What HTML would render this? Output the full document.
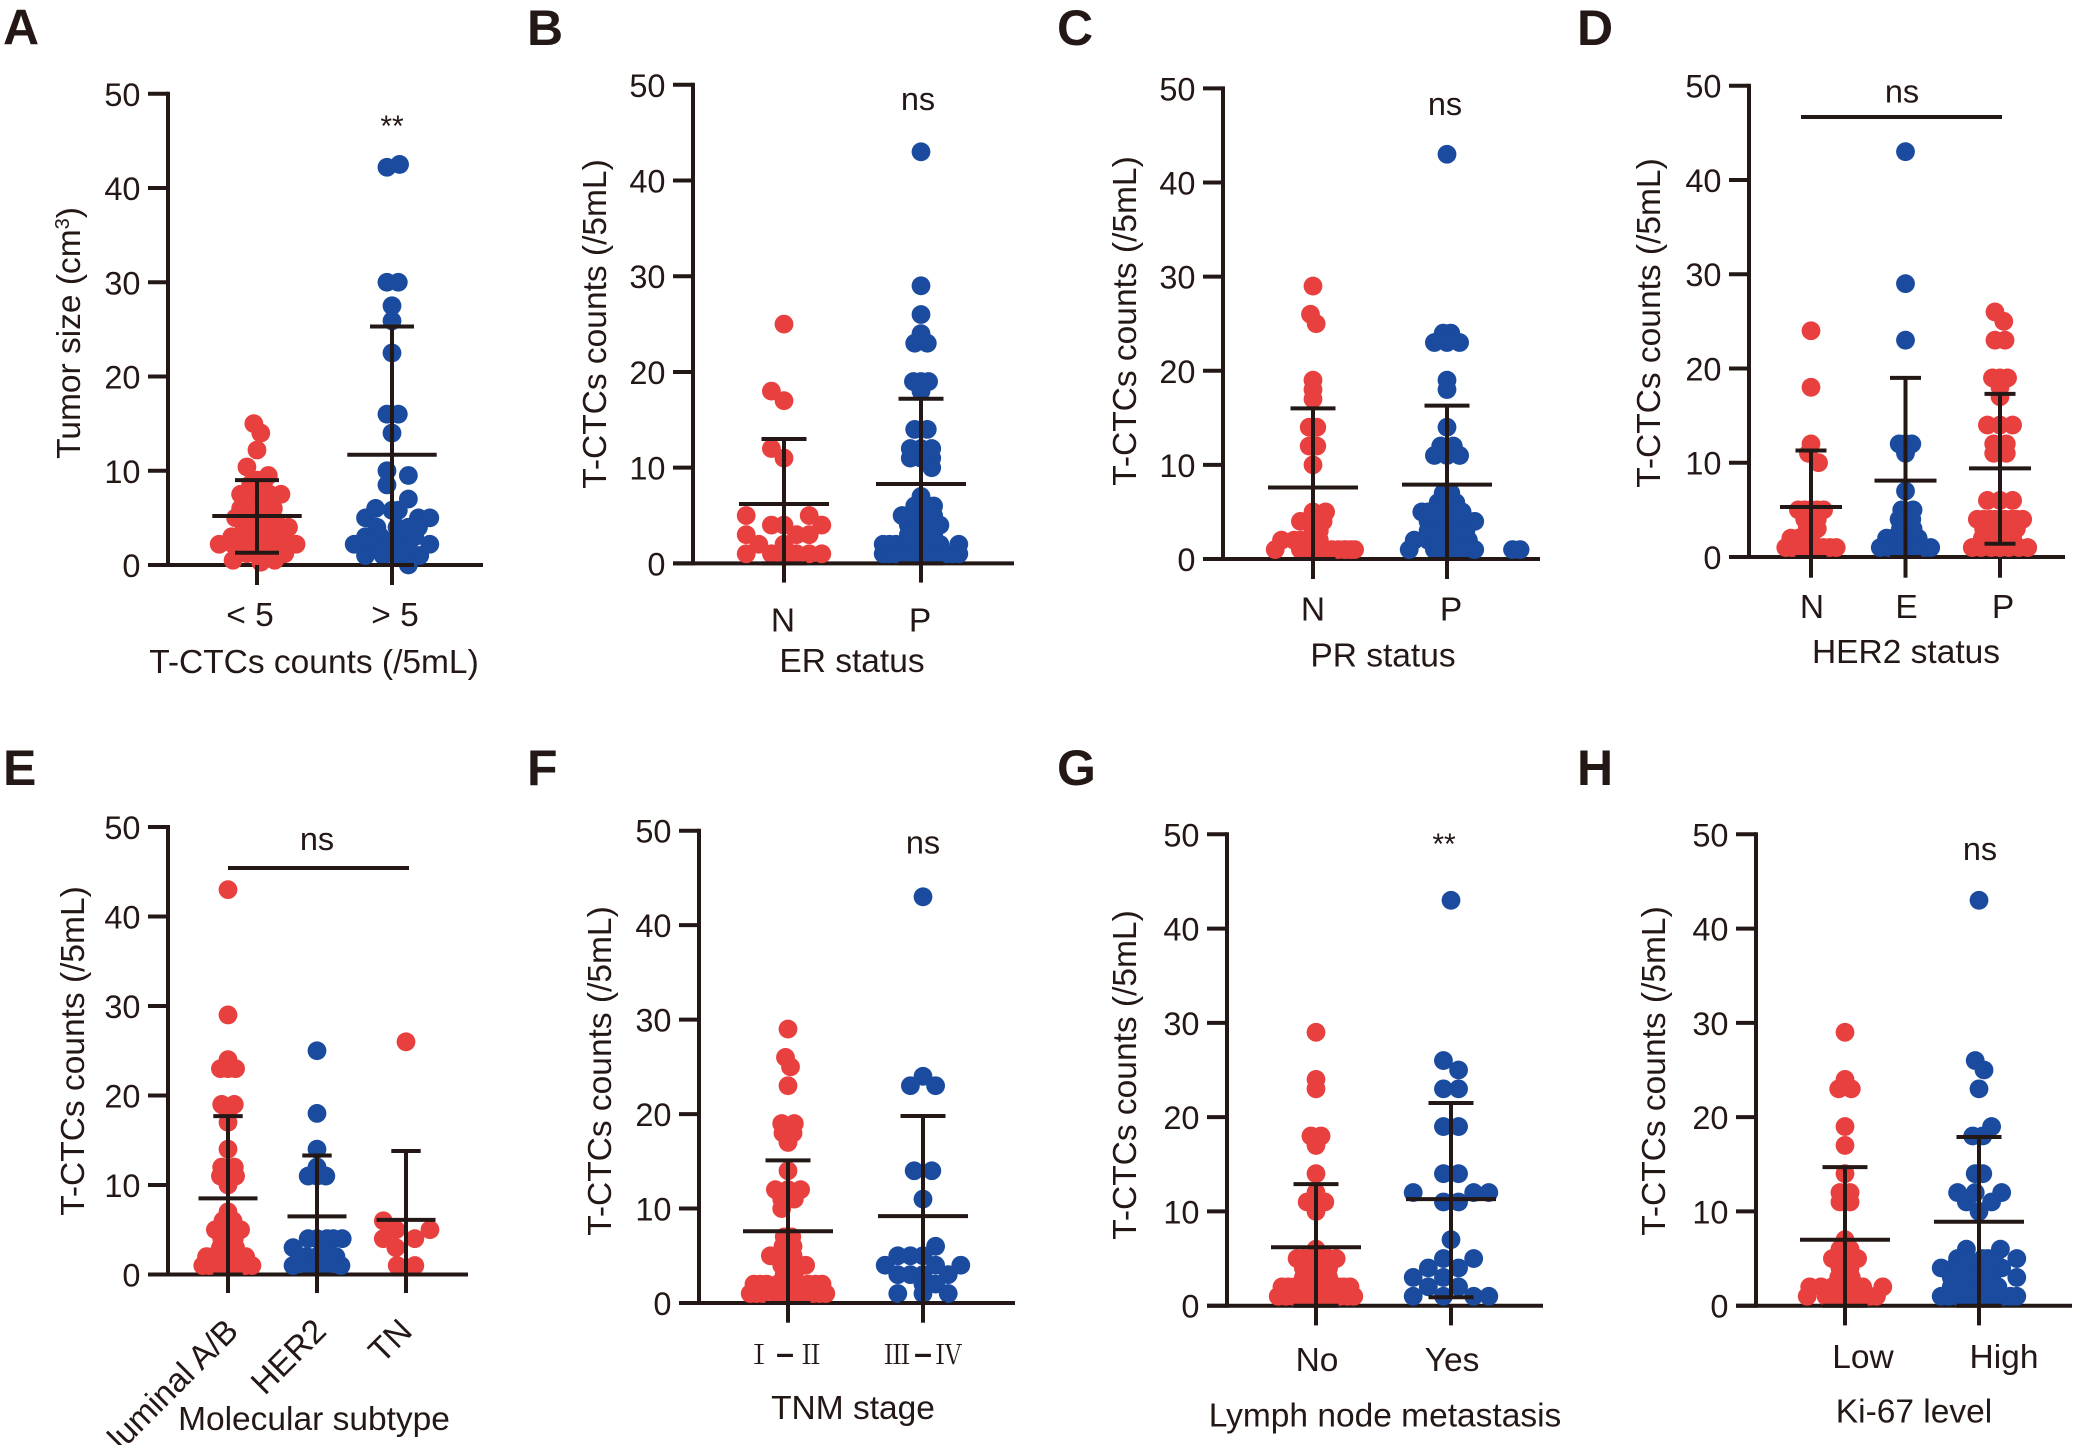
<!DOCTYPE html>
<html lang="en">
<head>
<meta charset="utf-8">
<title>T-CTCs counts by clinical features</title>
<style>
html,body{margin:0;padding:0;background:#fff;}
svg{display:block;}
text{font-family:"Liberation Sans","Noto Sans CJK SC",sans-serif;fill:#231815;}
</style>
</head>
<body>
<svg id="figure" xmlns="http://www.w3.org/2000/svg" width="2075" height="1445" viewBox="0 0 2075 1445"></svg>
<script>
const yTicks = [0, 10, 20, 30, 40, 50];

const catsA = ["< 5", "> 5"];
const meansA = [5.2, 11.7];
const upperA = [9, 25.3];
const lowerA = [1.3, 0];
const valsA1 = [15,14,12.2,10.4,9.5,7.5,7.5,7.5,7.5,6,6,6,5,5,5,4,4,4,4,4,3,3,2.2,2.2,2.2,2.2,2.2,2.2,2.2,1.2,1.2,0.5,0.3,0.5,9,8.6,8.6,6,6,6,5,5,5,5,4,4,4,4,3,3,3,3,3,3,1.2,1.2,1.2,1.2];
const slotA1 = [-0.25,0.3,0,-0.8,0.9,-1.3,0,1,1.9,-1.3,-0.5,0.3,-1.2,0,0.8,-0.5,0.5,1.5,2.5,1,-1.5,1,-3,-1.9,-0.8,0.3,1.3,2.1,3.1,-0.8,0.8,-1.9,0.3,1.4,0,-0.5,0.5,-1,0.8,1.3,-0.5,0.5,1.3,-1.7,-1,0,1,2,-2,-0.5,0,0.5,1.5,2,-1.5,0,1.5,2.2];
const valsA2 = [42.2,42.5,30,30,27.5,25.9,22.5,16,16,14,10,9.5,8.5,7,6,5.8,5.8,5,5,5,4,4,4,4,3,3,3,2.2,2.2,2.2,2.2,2.5,1,1,1,1,1.3,0,3,2,2];
const slotA2 = [-0.4,0.6,-0.4,0.5,0,0,0,-0.4,0.5,0,-0.4,1.3,-0.4,1.3,-1.3,0,0.5,-2.1,2.1,3,-1.2,0.4,1.3,2.1,-2.1,-0.9,0.4,-3,-1.2,1.3,3,-2.1,-2.1,-0.7,0.3,2.2,1.3,1.3,1.8,-0.3,0.5];

const catsB = ["N", "P"];
const meansB = [6.2, 8.3];
const upperB = [13, 17.2];
const lowerB = [0, 0];
const valsB1 = [25,18,17,12,11,5,5,4,4,4,3,3,3,2,2,1,1,1,1,1,1,1];
const slotB1 = [0,-1,0,-1,0,-3,2,-1,0,3,-3,1,2,-2,0,-3,-1,0,1,2,3,0.5];
const valsB2 = [43,29,26,24,23,23,19,19,19,18,14,14,12,12,12,11,11,11,10,7,6,6,6,5,5,5,4,4,4,3,3,3,2,2,2,2,2,1,1,1,1,1,1,1,5,4,4,4,3,3,2,2,2,1,1,1,1,1,1];
const slotB2 = [0,0,0,0,-0.5,0.5,-0.6,0,0.6,0,-0.5,0.5,-0.85,0,0.85,-0.85,0,0.85,0.85,0,-0.5,0.5,1,-1.5,-0.5,0.5,-0.5,0.5,1.5,-0.5,0,0.5,-3,-2,-1,1.5,3,-3,-2,-1,0,1,2,3,1,-1,0,1,-1,1,-2.5,-0.5,0.5,-2.5,-1.5,-0.5,0.5,1.5,2.5];

const catsC = ["N", "P"];
const meansC = [7.6, 7.9];
const upperC = [16, 16.3];
const lowerC = [0, 0];
const valsC1 = [29,26,25,19,18,17,14,14,12,12,10,5,5,4,4,4,3,3,2,2,2,1,1,1,1,1,1,1,1,1,1,1,1,2,2,2];
const slotC1 = [0,-0.2,0.25,0,0,0,-0.3,0.3,-0.3,0.3,0,0,1,-1,0,0.8,0,0.5,-2.5,-1.5,-0.5,-3,-1,0,1,2,2.6,3,3.3,-0.5,0.5,1.5,2.5,-1,0,0.5];
const valsC2 = [43,24,24,23,23,23,19,18,14,12,12,11,11,11,7,6,6,5,5,5,5,4,4,4,4,3,3,3,2,2,2,2,1,1,1,1,1,1,1,4,4,4,4,3,3,3,3,5,5,5,2,2,2,1,1,1,6,7,7];
const slotC2 = [0,-0.3,0.3,-1,0,1,0,0,0,-0.5,0.5,-1,0,1,0,-0.7,0.7,-2,-1,1,1.2,-1,0,1,2.2,-0.8,0,0.8,-2.6,-1.5,1,1.7,-3,-1,0,1,2.2,5.2,5.8,-1.5,-0.5,0.5,1.5,-1.5,-0.5,0.5,1.5,-1.5,-0.5,0.5,-0.5,0,0.5,-0.5,0.5,1.6,0,-0.3,0.3];

const catsD = ["N", "E", "P"];
const meansD = [5.3, 8.1, 9.4];
const upperD = [11.3, 19, 17.3];
const lowerD = [0, 0, 1.4];
const valsD1 = [24,18,12,11,10,5,5,5,4,3,2,2,1,1,1,1,1,1,1,1,1,2,2,3,3,5,5,4,4];
const slotD1 = [0,0,0,-0.2,0.6,-1,0,1,0,0.2,-1.6,-0.5,-2,-1,0,1,2,-1.5,-0.5,0.5,1.5,-1,0,-0.3,0.5,-0.5,0.5,-0.5,0.5];
const valsD2 = [43,29,23,12,12,12,11,7,5,5,4,3,2,2,1,1,1,1,1,1,1,1,1,2,2,2,2,3,3,4,4,4];
const slotD2 = [0,0,0,-0.5,0,0.5,0,0,-0.3,0.6,-0.5,0,-1.5,0.5,-2,-0.6,0.7,1.5,2,-1.3,0,0.3,1,-1,-0.5,0,1,-0.4,0.6,-0.5,0,0.5];
const valsD3 = [26,25,23,23,19,19,19,18,17,14,14,14,12,12,11,11,6,6,6,4,4,4,4,4,3,3,3,2,2,1,1,1,1,4,4,4,4,3,3,2,2,2,1,1,1];
const slotD3 = [-0.4,0.3,-0.4,0.4,-0.6,0,0.6,0,0,-1,0,1,-0.5,0.5,-0.5,0.5,-1,0,1,-1.8,-0.8,0,0.9,1.8,-0.8,0,0.8,-1.4,1,-2.2,-0.7,0.7,2.2,-1.3,-0.4,0.4,1.3,-1.3,1.3,-0.7,0,0.5,-1.5,0,1.5];

const catsE = ["luminal A/B", "HER2", "TN"];
const meansE = [8.5, 6.5, 6.1];
const upperE = [17.7, 13.3, 13.8];
const lowerE = [0, 0, 0];
const valsE1 = [43,29,24,23,23,23,19,19,18,17,14,12,12,11,11,10,7,6,6,5,5,5,4,4,3,3,2,2,1,1,1,1,1,1,1,1,1,2,2,2,3,4,4];
const slotE1 = [0,0,0,-0.6,0,0.6,-0.5,0.5,0,0,0,-0.5,0.5,-0.6,0.6,0,0,-0.4,0.4,-1,0,1,-0.5,0.5,-0.6,0.6,-1.7,1.4,-2,-1,0.5,1.9,-1.5,-0.5,0,1,1.4,-1.2,-0.8,1,0,-0.2,0.2];
const valsE2 = [25,18,14,12,11,11,11,4,4,4,3,2,2,2,1,1,1,2,2,3,4,4,1,1];
const slotE2 = [0,0,0,0,-0.7,0,0.7,-0.7,1.3,2,-1.9,-0.8,0.9,1.5,-1.9,0,1.9,0,-1.3,0.5,0,0.8,-0.8,0.8];
const valsE3 = [26,6,5,5,4,4,3,1,1];
const slotE3 = [0,-1.8,-0.8,1.9,-1.8,0.7,-0.8,-0.7,0.7];

const catsF = ["Ⅰ－Ⅱ", "Ⅲ－Ⅳ"];
const meansF = [7.6, 9.2];
const upperF = [15.1, 19.8];
const lowerF = [0, 0];
const valsF1 = [29,26,25,23,19,19,18,18,17,14,12,12,12,11,11,10,7,6,5,5,5,4,4,4,3,3,2,2,2,2,1,1,1,1,1,1,1,1,1,1,1,1,2,2,2,2,2,3,3,4,5,6,6,7,7];
const slotF1 = [0,-0.2,0.2,0,-0.5,0.5,-0.4,0.4,0,0,-1,0,1,-0.5,0.5,-0.5,0,0,-1.4,-0.4,0.4,-0.5,0.4,1.4,-0.3,0.3,-2.7,-1.7,1.6,2.7,-3,-2,-0.6,1,2,3,-1,-0.2,0.3,1.5,2.5,-2.5,-0.8,0,0.8,2.2,-2.2,-0.3,0.5,0,0,-0.4,0.4,-0.3,0.3];
const valsF2 = [43,24,23,23,14,14,11,6,5,5,5,4,4,4,3,3,3,3,2,2,1,1,1];
const slotF2 = [0,0,-1,1,-0.7,0.7,0,1,-2,-1,0,-3,1,3,-2,-1,0,2,0,1,-2,0,2];

const catsG = ["No", "Yes"];
const meansG = [6.2, 11.3];
const upperG = [12.9, 21.5];
const lowerG = [0, 0.9];
const valsG1 = [29,24,23,18,18,17,14,12,11,11,10,6,5,5,5,5,4,4,4,3,3,2,2,2,2,2,1,1,1,1,1,1,1,1,1,1,1,1,2,2,2,2,2,2,3,3,3,4,4,5,5];
const slotG1 = [0,0,0,-0.4,0.4,0,0,0,-0.7,0.7,0,0,-1.5,-0.4,0.6,1.6,-1,0,1,-0.5,0.5,-2.7,-1.7,-0.6,1.8,2.7,-3,-1.8,-0.7,0.8,1.9,3,-2.4,-1.2,0,0.3,1.4,2.5,-2.2,-1.1,0,0.6,1.2,2.2,-1,0,1,-0.5,0.5,-1,1];
const valsG2 = [43,26,25,23,23,19,19,14,14,12,12,12,11,11,7,5,5,4,4,3,3,2,2,1,1,1,1];
const slotG2 = [0,-0.6,0.6,-0.6,0.6,-0.6,0.6,-0.6,0.6,-3,1.8,3,-0.6,0.6,0,-0.6,1.8,-1.8,0.6,-3,-0.6,-1.8,0.6,-3,-0.6,1.8,3];

const catsH = ["Low", "High"];
const meansH = [7, 8.9];
const upperH = [14.7, 17.9];
const lowerH = [0, 0];
const valsH1 = [29,24,23,23,19,17,14,12,12,11,11,7,6,6,5,5,5,4,4,3,3,2,2,2,2,1,1,1,1,1,1,1,1,1,2,2,2,3,4];
const slotH1 = [0,0,-0.5,0.5,0,0,0,-0.4,0.4,-0.4,0.4,0,-0.4,0.4,-1,0,1,-0.4,0,-0.5,0.5,-2.8,-1.9,0.8,3,-3,-1.5,-0.3,0.9,2.5,-1,0.3,1.5,2,-1,0,1.4,0,0.4];
const valsH2 = [43,26,25,23,19,18,18,14,14,12,12,12,11,11,10,6,6,5,5,5,4,4,4,4,4,3,3,3,2,2,2,1,1,1,1,1,1,1,1,1,1,1,1,2,2,2,3,3,3,3,4,4,4,5,5,5];
const slotH2 = [0,-0.3,0.4,0,1,-0.5,0.3,-0.3,0.3,-1.7,-0.3,1.8,-1,1,0,-1,1.7,-1.7,0.7,3,-3,-2,-0.9,1,1.8,-2.2,1,3,-2.2,-0.9,0.7,-3,-1.7,-0.6,1,2,3,-2.4,-1.2,0,0.3,1.5,2.5,-1.5,0,1.5,-1.5,-0.5,0,0.5,-1.5,0,0.5,-1,0.3,1.2];

const RED = "#e8403e";
const BLUE = "#1a4b9f";
const INK = "#231815";
const DOT_RADIUS = 9.4;
const SLOT_WIDTH = 12.6;
const TEXT_SIZE = 33.5;
const SVG_NS = "http://www.w3.org/2000/svg";
const root = document.getElementById("figure");

const panels = [
  {id:"A", lx:3, ly:44.5, ax:168, y50:93.75, y0:565, xEnd:483, start:257, step:135, tickEnd:585, meanW:44.7, capW:22,
   cats:catsA, means:meansA, upper:upperA, lower:lowerA,
   groups:[[valsA1,slotA1,RED],[valsA2,slotA2,BLUE]],
   labelBase:626, labelShift:[-7,3], xTitle:"T-CTCs counts (/5mL)", xtx:314, xty:673,
   yTitle:"Tumor size (cm", sup:true, ytx:80, yty:333, note:"**", nx:392, ny:136},
  {id:"B", lx:527, ly:45, ax:693, y50:84.8, y0:563.4, xEnd:1014, start:784, step:137, tickEnd:582.6, meanW:45, capW:22.5,
   cats:catsB, means:meansB, upper:upperB, lower:lowerB,
   groups:[[valsB1,slotB1,RED],[valsB2,slotB2,BLUE]],
   labelBase:631.7, labelShift:[-1,-1], xTitle:"ER status", xtx:852, xty:671.9,
   yTitle:"T-CTCs counts (/5mL)", ytx:606, yty:324, note:"ns", nx:918, ny:110},
  {id:"C", lx:1057, ly:45, ax:1223, y50:88.4, y0:559, xEnd:1540, start:1313, step:134, tickEnd:579, meanW:45, capW:22.5,
   cats:catsC, means:meansC, upper:upperC, lower:lowerC,
   groups:[[valsC1,slotC1,RED],[valsC2,slotC2,BLUE]],
   labelBase:620.5, labelShift:[0,4], xTitle:"PR status", xtx:1383, xty:666.5,
   yTitle:"T-CTCs counts (/5mL)", ytx:1136, yty:321, note:"ns", nx:1445, ny:115},
  {id:"D", lx:1577, ly:45, ax:1749, y50:85.7, y0:557, xEnd:2065, start:1811, step:94.5, tickEnd:577.7, meanW:31, capW:15.5,
   cats:catsD, means:meansD, upper:upperD, lower:lowerD,
   groups:[[valsD1,slotD1,RED],[valsD2,slotD2,BLUE],[valsD3,slotD3,RED]],
   labelBase:618, labelShift:[1,1,3], xTitle:"HER2 status", xtx:1906, xty:663,
   yTitle:"T-CTCs counts (/5mL)", ytx:1660, yty:323, note:"ns", nx:1902, ny:102.7, bar:[1801,2002,117]},
  {id:"E", lx:3, ly:785, ax:168, y50:827, y0:1274.5, xEnd:468, start:228, step:89, tickEnd:1293, meanW:29.5, capW:14.7,
   cats:catsE, means:meansE, upper:upperE, lower:lowerE,
   groups:[[valsE1,slotE1,RED],[valsE2,slotE2,BLUE],[valsE3,slotE3,RED]],
   rotated:true, labelBase:1333, labelShift:[12,11,8], xTitle:"Molecular subtype", xtx:314, xty:1430,
   yTitle:"T-CTCs counts (/5mL)", ytx:84, yty:1051, note:"ns", nx:317, ny:850, bar:[228,409,868]},
  {id:"F", lx:527, ly:785, ax:699, y50:830.7, y0:1303, xEnd:1015, start:788, step:135, tickEnd:1322.7, meanW:45, capW:22.5,
   cats:catsF, means:meansF, upper:upperF, lower:lowerF,
   groups:[[valsF1,slotF1,RED],[valsF2,slotF2,BLUE]],
   serifCats:true, labelBase:1364, labelShift:[-3,0], xTitle:"TNM stage", xtx:853, xty:1419,
   yTitle:"T-CTCs counts (/5mL)", ytx:611, yty:1071, note:"ns", nx:923, ny:853.5},
  {id:"G", lx:1057, ly:785, ax:1227, y50:834.3, y0:1305.7, xEnd:1543, start:1316, step:135, tickEnd:1325.4, meanW:45, capW:22.5,
   cats:catsG, means:meansG, upper:upperG, lower:lowerG,
   groups:[[valsG1,slotG1,RED],[valsG2,slotG2,BLUE]],
   labelBase:1371, labelShift:[1,1], xTitle:"Lymph node metastasis", xtx:1385, xty:1426.7,
   yTitle:"T-CTCs counts (/5mL)", ytx:1136, yty:1075, note:"**", nx:1444, ny:854},
  {id:"H", lx:1577, ly:785, ax:1756, y50:834.3, y0:1305.7, xEnd:2072, start:1845, step:134, tickEnd:1325.4, meanW:45, capW:22.5,
   cats:catsH, means:meansH, upper:upperH, lower:lowerH,
   groups:[[valsH1,slotH1,RED],[valsH2,slotH2,BLUE]],
   labelBase:1367.8, labelShift:[18,25], xTitle:"Ki-67 level", xtx:1914, xty:1422.7,
   yTitle:"T-CTCs counts (/5mL)", ytx:1665, yty:1071, note:"ns", nx:1980, ny:860}
];

function make(parent, tag, attrs, content) {
  const node = document.createElementNS(SVG_NS, tag);
  for (const key in attrs) node.setAttribute(key, attrs[key]);
  if (content !== undefined) node.textContent = content;
  parent.appendChild(node);
  return node;
}

function line(parent, x1, y1, x2, y2, width) {
  return make(parent, "line", {x1:x1, y1:y1, x2:x2, y2:y2, stroke:INK, "stroke-width":width});
}

panels.forEach(function (p) {
  const yScale = function (v) { return p.y0 - v * (p.y0 - p.y50) / 50; };
  const xScale = function (i, slot) { return p.start + i * p.step + (slot || 0) * SLOT_WIDTH; };

  const g = make(root, "g", {});
  
  

  const letter = make(g, "text", {x:p.lx, y:p.ly, "font-size":50, "font-weight":"bold", fill:"#000"}, p.id);
  
  

  const yAxis = line(g, p.ax, p.y50 - 2, p.ax, p.y0 + 2, 4);
  
  

  const xAxis = line(g, p.ax - 20, p.y0, p.xEnd, p.y0, 4);
  
  

  yTicks.forEach(function (t) {
    const tick = line(g, p.ax - 20, yScale(t), p.ax, yScale(t), 4);
    
    
    const label = make(g, "text", {x:p.ax - 27.5, y:yScale(t) + 12, "font-size":32.5, "text-anchor":"end"}, String(t));
    
    
  });

  p.groups.forEach(function (group, i) {
    const values = group[0];
    const slots = group[1];
    values.forEach(function (v, k) {
      const dot = make(g, "circle", {cx:xScale(i, slots[k]), cy:yScale(v), r:DOT_RADIUS, fill:group[2]});
      
      
    });
  });

  p.cats.forEach(function (cat, i) {
    const cx = xScale(i);
    const tick = line(g, cx, p.y0, cx, p.tickEnd, 4);
    
    

    const err = line(g, cx, yScale(p.upper[i]), cx, yScale(p.lower[i]), 4);
    
    

    const capTop = line(g, cx - p.capW, yScale(p.upper[i]), cx + p.capW, yScale(p.upper[i]), 4);
    
    

    const capLow = line(g, cx - p.capW, yScale(p.lower[i]), cx + p.capW, yScale(p.lower[i]), 4);
    
    

    const mean = line(g, cx - p.meanW, yScale(p.means[i]), cx + p.meanW, yScale(p.means[i]), 4);
    
    

    const lx = cx + p.labelShift[i];
    let catLabel;
    if (p.rotated) {
      catLabel = make(g, "text", {x:lx, y:p.labelBase, "font-size":TEXT_SIZE, "text-anchor":"end", transform:"rotate(-45 " + lx + " " + p.labelBase + ")"}, cat);
    } else if (p.serifCats) {
      const parts = cat.split("－");
      catLabel = make(g, "text", {x:lx, y:p.labelBase, "font-size":27, "text-anchor":"middle", style:'font-family:"Liberation Serif","Noto Serif CJK SC",serif'});
      make(catLabel, "tspan", {}, parts[0]);
      make(catLabel, "tspan", {dx:3.6, style:'font-family:"Liberation Sans",sans-serif', "font-weight":"bold", "font-size":32}, "–");
      make(catLabel, "tspan", {dx:3.6}, parts[1]);
    } else {
      catLabel = make(g, "text", {x:lx, y:p.labelBase, "font-size":TEXT_SIZE, "text-anchor":"middle"}, cat);
    }
    
    
  });

  const xTitle = make(g, "text", {x:p.xtx, y:p.xty, "font-size":TEXT_SIZE, "text-anchor":"middle"}, p.xTitle);
  
  

  const yTitle = make(g, "text", {x:p.ytx, y:p.yty, "font-size":TEXT_SIZE, "text-anchor":"middle", transform:"rotate(-90 " + p.ytx + " " + p.yty + ")"}, p.yTitle);
  
  
  if (p.sup) {
    make(yTitle, "tspan", {dy:-11, "font-size":20}, "3");
    make(yTitle, "tspan", {dy:11}, ")");
  }

  const note = make(g, "text", {x:p.nx, y:p.ny, "font-size":p.note === "**" ? 30 : 32.5, "text-anchor":"middle"}, p.note);
  
  

  if (p.bar) {
    const bar = line(g, p.bar[0], p.bar[2], p.bar[1], p.bar[2], 4);
    
    
  }
});
</script>
</body>
</html>
